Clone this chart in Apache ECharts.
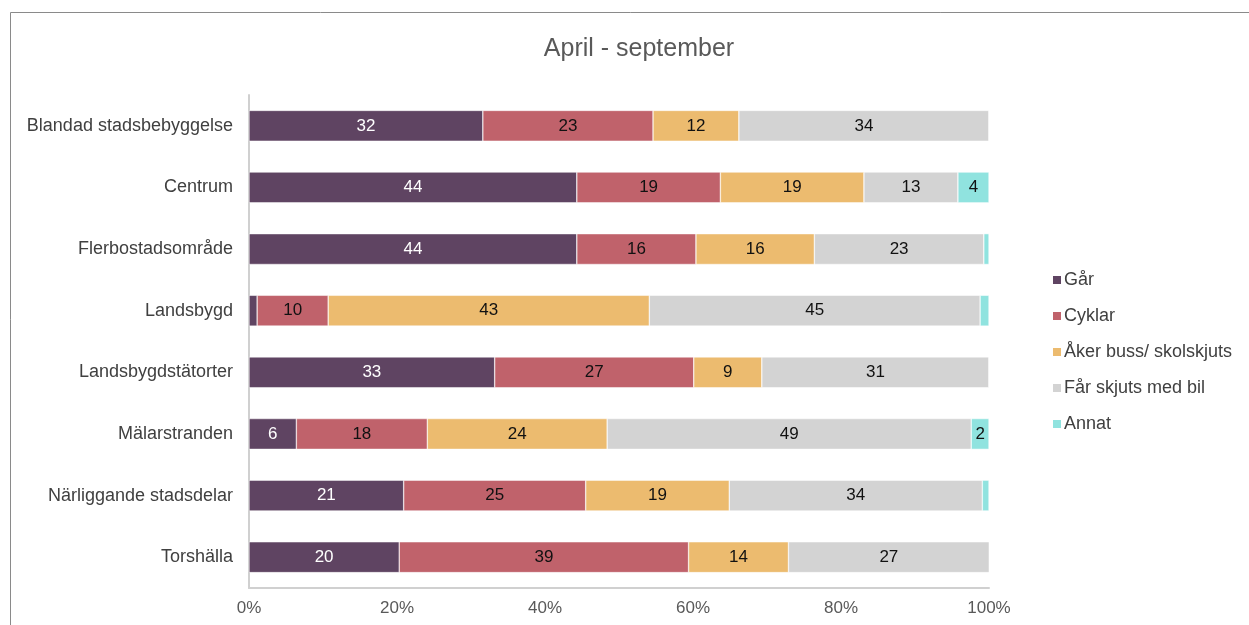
<!DOCTYPE html>
<html><head><meta charset="utf-8">
<script src="https://cdn.jsdelivr.net/npm/echarts@6/dist/echarts.min.js"></script>
<style>html,body{margin:0;padding:0;background:#fff}#c{width:1249px;height:625px}</style>
</head><body><div id="c"></div>
<script>
const categories = ["Blandad stadsbebyggelse","Centrum","Flerbostadsområde","Landsbygd","Landsbygdstätorter","Mälarstranden","Närliggande stadsdelar","Torshälla"];
const gar     = [31.6, 44.3, 44.3, 1.1, 33.2, 6.4, 20.9, 20.3];
const cyklar  = [23.0, 19.4, 16.1, 9.6, 26.9, 17.7, 24.6, 39.1];
const aker    = [11.6, 19.4, 16.0, 43.4, 9.2, 24.3, 19.4, 13.5];
const far     = [33.8, 12.7, 22.9, 44.7, 30.7, 49.2, 34.2, 27.2];
const annat   = [0, 4.2, 0.7, 1.2, 0, 2.4, 0.9, 0];
const seriesNames = ["Går","Cyklar","Åker buss/ skolskjuts","Får skjuts med bil","Annat"];
const xTicks = ["0%","20%","40%","60%","80%","100%"];

const colors = ["#5f4462","#c0626b","#ecbb6f","#d3d3d3","#90e3df"];
const labelColors = ["#ffffff","#111111","#111111","#111111","#111111"];
const font = "Liberation Sans, Arial, sans-serif";
const seriesData = [gar, cyklar, aker, far, annat];

const chart = echarts.init(document.getElementById('c'));
chart.setOption({
  animation:false,
  textStyle:{fontFamily:font},
  graphic:[{type:'rect',shape:{x:10.5,y:12.5,width:1400,height:800},style:{fill:'none',stroke:'#8a8a8a',lineWidth:1},silent:true,z:-1}],
  title:{text:'April - september',left:634,top:32,textAlign:'center',textStyle:{fontFamily:font,fontSize:25,fontWeight:'normal',color:'#595959'}},
  legend:{orient:'vertical',left:1046,top:265,itemGap:16,itemWidth:10,itemHeight:10,icon:'rect',
    textStyle:{fontFamily:font,fontSize:18,lineHeight:20,color:'#404040',padding:[0,0,0,-3]},data:seriesNames},
  grid:{left:249,right:260,top:95,bottom:37,containLabel:false},
  xAxis:{type:'value',min:0,max:100,interval:20,
    axisLine:{show:true,lineStyle:{color:'#d0d0d0',width:2}},axisTick:{show:false},splitLine:{show:false},
    axisLabel:{fontFamily:font,fontSize:17,color:'#595959',margin:12,formatter:(v)=>xTicks[Math.round(v/20)]}},
  yAxis:{type:'category',data:categories,inverse:true,
    axisLine:{show:true,lineStyle:{color:'#d0d0d0',width:2}},axisTick:{show:false},
    axisLabel:{fontFamily:font,fontSize:18,color:'#404040',margin:16}},
  series:seriesNames.map((n,i)=>({
    name:n,type:'bar',stack:'total',barWidth:'50%',data:seriesData[i],
    itemStyle:{color:colors[i],borderColor:'#ffffff',borderWidth:0.5},
    label:{show:true,position:'inside',fontFamily:font,fontSize:17,color:labelColors[i],
      formatter:(p)=>{const r=Math.round(p.value);return r>=2?String(r):'';}}
  }))
});
</script></body></html>
